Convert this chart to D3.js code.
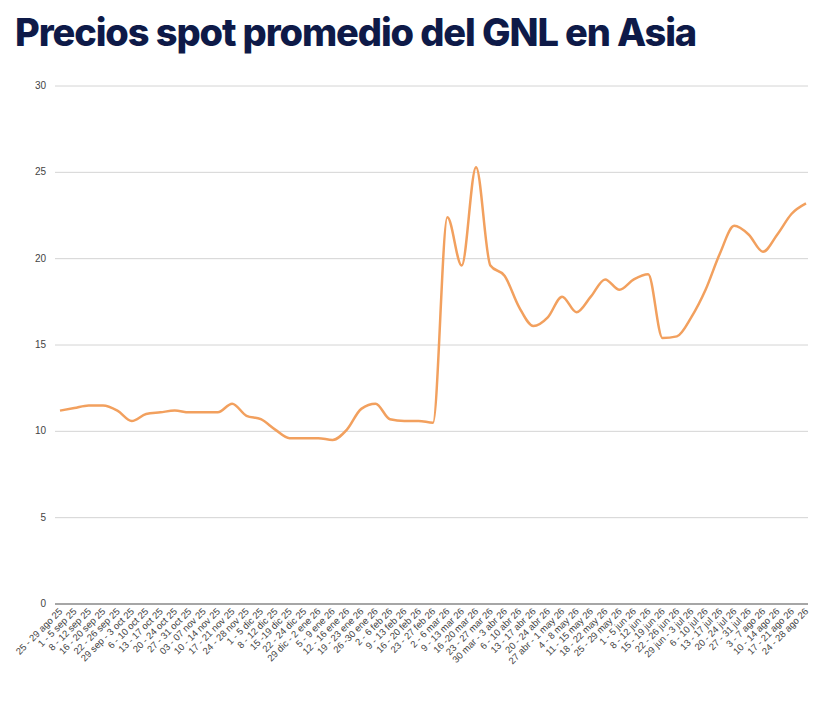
<!DOCTYPE html>
<html><head><meta charset="utf-8">
<script src="https://cdn.jsdelivr.net/npm/d3@7"></script>
<style>body{margin:0;background:#fff}</style>
</head><body>
<svg id="chart" width="828" height="704"></svg>
<script>
var labels = ["25 - 29 ago 25","1 - 5 sep 25","8 - 12 sep 25","16 - 20 sep 25","22 - 26 sep 25","29 sep - 3 oct 25","6 - 10 oct 25","13 - 17 oct 25","20 - 24 oct 25","27 - 31 oct 25","03 - 07 nov 25","10 - 14 nov 25","17 - 21 nov 25","24 - 28 nov 25","1 - 5 dic 25","8 - 12 dic 25","15 -19 dic 25","22 - 24 dic 25","29 dic - 2 ene 26","5 - 9 ene 26","12 - 16 ene 26","19 - 23 ene 26","26 -30 ene 26","2 - 6 feb 26","9 - 13 feb 26","16 - 20 feb 26","23 - 27 feb 26","2 - 6 mar 26","9 - 13 mar 26","16 -20 mar 26","23 - 27 mar 26","30 mar - 3 abr 26","6 - 10 abr 26","13 - 17 abr 26","20 - 24 abr 26","27 abr - 1 may 26","4 - 8 may 26","11 - 15 may 26","18 - 22 may 26","25 - 29 may 26","1 - 5 jun 26","8 - 12 jun 26","15 - 19 jun 26","22 - 26 jun 26","29 jun - 3 jul 26","6 - 10 jul 26","13 - 17 jul 26","20 - 24 jul 26","27 - 31 jul 26","3 - 7 ago 26","10 - 14 ago 26","17 - 21 ago 26","24 - 28 ago 26"];
var prices = [11.2,11.35,11.5,11.5,11.2,10.6,11.0,11.1,11.2,11.1,11.1,11.1,11.6,10.9,10.7,10.1,9.6,9.6,9.6,9.5,10.1,11.3,11.6,10.7,10.6,10.6,10.5,22.4,19.6,25.3,19.6,19.0,17.2,16.1,16.6,17.8,16.9,17.8,18.8,18.2,18.8,19.1,15.4,15.5,16.6,18.2,20.3,21.9,21.4,20.4,21.4,22.6,23.2];
var yTicks = [0,5,10,15,20,25,30];

var svg = d3.select("#chart");

svg.append("text")
    .attr("x", 15).attr("y", 46)
    .attr("font-family", "Inter").attr("font-weight", 800)
    .attr("font-size", 38).attr("letter-spacing", -1.1)
    .attr("fill", "#0e1a48")
    .text("Precios spot promedio del GNL en Asia");

var x = d3.scalePoint().domain(labels).range([60, 806]);
var y = d3.scaleLinear().domain([0, 30]).range([604, 86]);

// grid
svg.append("g").selectAll("line").data(yTicks).join("line")
    .attr("x1", 55).attr("x2", 808)
    .attr("y1", d => y(d)).attr("y2", d => y(d))
    .attr("stroke", d => d == 0 ? "#888" : "#d4d4d4")
    .attr("stroke-width", d => d == 0 ? 1.5 : 1);

svg.append("g").selectAll("text").data(yTicks).join("text")
    .attr("x", 46).attr("y", d => y(d) + 3)
    .attr("text-anchor", "end")
    .attr("font-family", "Liberation Sans").attr("font-size", 10)
    .attr("fill", "#444")
    .text(d => d);

svg.append("g").selectAll("text").data(labels).join("text")
    .attr("transform", d => "translate(" + (x(d) + 3) + ",612) rotate(-45)")
    .attr("text-anchor", "end")
    .attr("font-family", "Liberation Sans").attr("font-size", 9.5)
    .attr("fill", "#444")
    .text(d => d);

var line = d3.line()
    .x((d, i) => x(labels[i]))
    .y(d => y(d))
    .curve(d3.curveMonotoneX);

svg.append("path")
    .datum(prices)
    .attr("d", line)
    .attr("fill", "none")
    .attr("stroke", "#f2a05e")
    .attr("stroke-width", 2.5);
</script>
</body></html>
